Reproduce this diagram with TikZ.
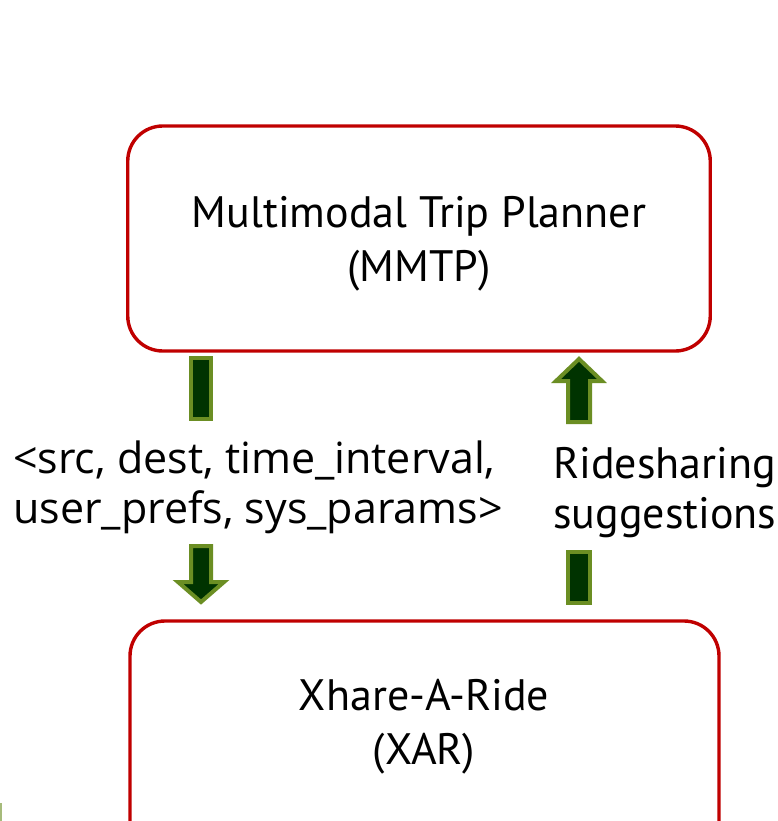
\documentclass[tikz,border=0pt]{standalone}
\usepackage{fontspec}
\setmainfont{PT Sans}
\newfontfamily\labelfont{Open Sans}
\definecolor{boxred}{HTML}{C00000}
\definecolor{arrowedge}{HTML}{6B8E23}
\definecolor{arrowfill}{HTML}{003300}
\begin{document}
\begin{tikzpicture}[x=1pt,y=-1pt,
  box/.style={draw=boxred, line width=3.4pt, rounded corners=35pt, fill=white, inner sep=0pt},
  boxtext/.style={font=\fontsize{44}{54}\selectfont, align=center, inner sep=0pt},
  sidetext/.style={font=\labelfont\fontsize{43}{50}\selectfont, align=left, inner sep=0pt, anchor=west},
  blockarrow/.style={draw=arrowedge, fill=arrowfill, line width=4pt, line join=miter}]
\clip (0,0) rectangle (778,821);
\fill[white] (0,0) rectangle (778,821);

% the two components
\node[box, minimum width=582.5pt, minimum height=225pt] (mmtp) at (419,238.5) {};
\node[box, minimum width=589pt, minimum height=259pt] (xar) at (424.5,750.5) {};
\node[boxtext] (mmtptext) at (419,244) {Multimodal Trip Planner\\(MMTP)};
\node[boxtext] (xartext) at (424,727) {Xhare-A-Ride\\(XAR)};

% request parameters and returned suggestions
\node[sidetext] (request) at (13,487) {<src, dest, time\_interval,\\user\_prefs, sys\_params>};
\node[sidetext, font=\fontsize{44}{50}\selectfont] (reply) at (553,493) {Ridesharing\\suggestions};

% downward block arrow, split around the request text
\draw[blockarrow] (191,358) -- (211,358) -- (211,419) -- (191,419) -- cycle;
\draw[blockarrow] (191,546) -- (211,546) -- (211,582) -- (224,582) -- (201,602)
  -- (178,582) -- (191,582) -- cycle;

% upward block arrow, split around the reply text
\draw[blockarrow] (568,603) -- (590,603) -- (590,552) -- (568,552) -- cycle;
\draw[blockarrow] (568,422) -- (590,422) -- (590,381) -- (602,381) -- (579,359)
  -- (556,381) -- (568,381) -- cycle;

% edge of a neighbouring shape at the lower left
\fill[arrowedge!60] (0,803) rectangle (2,821);
\end{tikzpicture}
\end{document}
